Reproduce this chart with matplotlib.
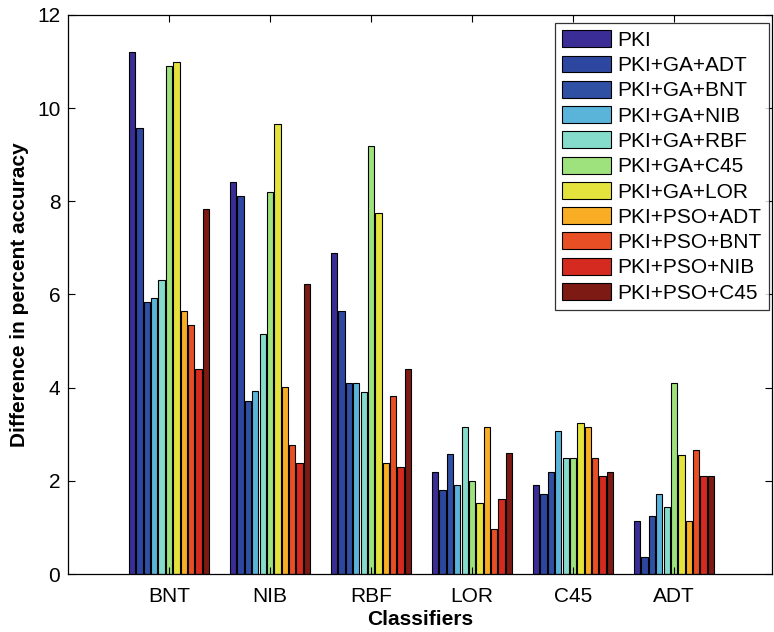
import numpy as np
import matplotlib.pyplot as plt

plt.rcParams['font.family'] = ['Liberation Sans', 'DejaVu Sans']

classifiers = ['BNT', 'NIB', 'RBF', 'LOR', 'C45', 'ADT']
methods = ['PKI', 'PKI+GA+ADT', 'PKI+GA+BNT', 'PKI+GA+NIB', 'PKI+GA+RBF',
           'PKI+GA+C45', 'PKI+GA+LOR', 'PKI+PSO+ADT', 'PKI+PSO+BNT',
           'PKI+PSO+NIB', 'PKI+PSO+C45']
colors = ['#3a2d96', '#2d47a0', '#3050a4', '#5ab4da', '#86dccb', '#9ee27e',
          '#e4e23c', '#f9ad24', '#e84f24', '#d42a1f', '#7d1a14']

# one list per classifier group, values in method order
bnt = [11.2, 9.57, 5.83, 5.93, 6.31, 10.9, 11.0, 5.64, 5.35, 4.4, 7.84]
nib = [8.42, 8.12, 3.71, 3.92, 5.16, 8.21, 9.65, 4.01, 2.77, 2.38, 6.22]
rbf = [6.89, 5.64, 4.1, 4.11, 3.91, 9.18, 7.74, 2.39, 3.82, 2.29, 4.4]
lor = [2.2, 1.81, 2.57, 1.91, 3.15, 2.0, 1.52, 3.15, 0.96, 1.62, 2.59]
c45 = [1.91, 1.71, 2.19, 3.06, 2.48, 2.48, 3.25, 3.15, 2.48, 2.1, 2.19]
adt = [1.14, 0.37, 1.24, 1.71, 1.44, 4.1, 2.56, 1.14, 2.67, 2.1, 2.1]

values = np.array([bnt, nib, rbf, lor, c45, adt])

fig = plt.figure(figsize=(7.74, 6.32), dpi=100)
# axes box: x 68..772 px, y 15..574 px
ax = fig.add_axes([68 / 774, 58 / 632, 704 / 774, 559 / 632])

x = np.arange(1, len(classifiers) + 1)
pitch = 0.8 / len(methods)
for i, (name, col) in enumerate(zip(methods, colors)):
    offset = (i - (len(methods) - 1) / 2) * pitch
    ax.bar(x + offset, values[:, i], width=pitch * 0.86, color=col,
           edgecolor='black', linewidth=0.8, label=name)

ax.set_xlim(0, 6.97)
ax.set_ylim(0, 12)
ax.set_xticks(x)
ax.set_xticklabels(classifiers)
ax.set_yticks(range(0, 13, 2))
ax.tick_params(direction='in', top=True, right=True, labelsize=15, length=5)
ax.tick_params(axis='x', pad=9)
ax.tick_params(axis='y', pad=5.5)
for s in ax.spines.values():
    s.set_linewidth(0.9)

ax.set_xlabel('Classifiers', fontsize=15, fontweight='bold', labelpad=3)
ax.set_ylabel('Difference in percent accuracy', fontsize=15, fontweight='bold', labelpad=6)

leg = ax.legend(loc='upper right', bbox_to_anchor=((769 - 68) / 704, 1 - 8 / 559),
                fontsize=15, frameon=True, fancybox=False,
                edgecolor='black', handlelength=2.36, handleheight=0.87,
                borderaxespad=0.0, labelspacing=0.27, handletextpad=0.3,
                borderpad=0.35)
leg.get_frame().set_linewidth(0.9)

fig.savefig('out.png', dpi=100)
plt.close()
